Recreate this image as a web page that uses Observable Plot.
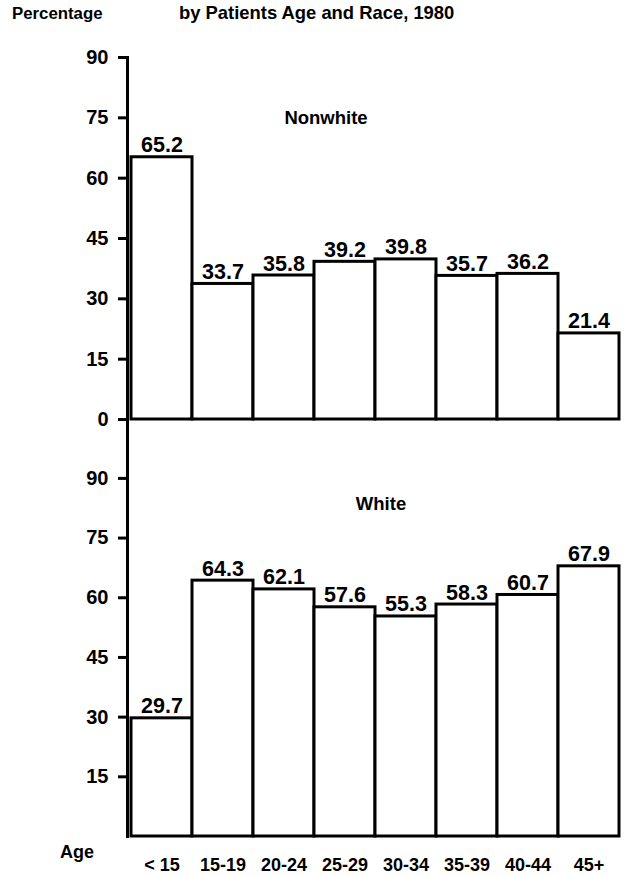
<!DOCTYPE html>
<html>
<head>
<meta charset="utf-8">
<script src="https://cdn.jsdelivr.net/npm/d3@7"></script>
<script src="https://cdn.jsdelivr.net/npm/@observablehq/plot@0.6"></script>
<style>
  html, body { margin: 0; padding: 0; background: #fff; }
  #wrap { position: relative; width: 629px; height: 876px; overflow: hidden; font-family: "Liberation Sans", Arial, sans-serif; font-weight: bold; color: #000; }
  .lbl { position: absolute; line-height: 1; white-space: nowrap; }
  #top, #bottom { position: absolute; left: 0; }
  #top { top: 0; }
  #bottom { top: 419px; }
  svg text { font-weight: bold; }
</style>
</head>
<body>
<div id="wrap">
  <div class="lbl" style="left:179px; top:4px; font-size:18.4px;">by Patients Age and Race, 1980</div>
  <div class="lbl" style="left:12px; top:6px; font-size:16.8px;">Percentage</div>
  <div id="top"></div>
  <div id="bottom"></div>
  <div class="lbl" style="left:60px; top:843px; font-size:18px;">Age</div>
</div>
<script>
const ages = ["< 15", "15-19", "20-24", "25-29", "30-34", "35-39", "40-44", "45+"];
const nonwhite = [65.2, 33.7, 35.8, 39.2, 39.8, 35.7, 36.2, 21.4];
const white = [29.7, 64.3, 62.1, 57.6, 55.3, 58.3, 60.7, 67.9];
const topTicks = [0, 15, 30, 45, 60, 75, 90];
const bottomTicks = [15, 30, 45, 60, 75, 90];
const panelNames = ["Nonwhite", "White"];

const font = '"Liberation Sans", Arial, sans-serif';
const nwData = ages.map((a, i) => ({age: a, value: nonwhite[i]}));
const wData = ages.map((a, i) => ({age: a, value: white[i]}));

function valueLabels(data) {
  return Plot.text(data, {
    x: "age", y: "value", text: d => d.value.toFixed(1),
    lineAnchor: "bottom", dy: -5, fontSize: 21.5, fontWeight: "bold",
    fill: "#000", style: {letterSpacing: "1.6px"}
  });
}

const topChart = Plot.plot({
  width: 629, height: 420,
  marginLeft: 127, marginRight: 7, marginTop: 57, marginBottom: 1,
  style: {fontFamily: font, background: "transparent", overflow: "visible"},
  x: {domain: ages, padding: 0, axis: null},
  y: {domain: [0, 90]},
  marks: [
    Plot.barY(nwData, {x: "age", y: "value", fill: "#fff", stroke: "#000", strokeWidth: 3, inset: 0}),
    Plot.frame({anchor: "left", stroke: "#000", strokeWidth: 3}),
    Plot.axisY({ticks: topTicks, tickSize: 9, tickPadding: 10, fontSize: 20, fontWeight: "bold", label: null, strokeWidth: 3}),
    valueLabels(nwData),
    Plot.text([panelNames[0]], {text: d => d, frameAnchor: "top", dx: -49, dy: 61, lineAnchor: "middle", fontSize: 18.5, fontWeight: "bold", fill: "#000"})
  ]
});
document.getElementById("top").appendChild(topChart);

const bottomChart = Plot.plot({
  width: 629, height: 457,
  marginLeft: 127, marginRight: 7, marginTop: 0, marginBottom: 40,
  style: {fontFamily: font, background: "transparent", overflow: "visible"},
  x: {domain: ages, padding: 0},
  y: {domain: [0, 104.8]},
  marks: [
    Plot.barY(wData, {x: "age", y: "value", fill: "#fff", stroke: "#000", strokeWidth: 3, inset: 0}),
    Plot.frame({anchor: "left", stroke: "#000", strokeWidth: 3}),
    Plot.axisY({ticks: bottomTicks, tickSize: 9, tickPadding: 10, fontSize: 20, fontWeight: "bold", label: null, strokeWidth: 3}),
    Plot.axisX({tickSize: 0, tickPadding: 22, fontSize: 18, fontWeight: "bold", label: null}),
    valueLabels(wData),
    Plot.text([panelNames[1]], {text: d => d, frameAnchor: "top", dx: 6, dy: 85, lineAnchor: "middle", fontSize: 18.5, fontWeight: "bold", fill: "#000"})
  ]
});
document.getElementById("bottom").appendChild(bottomChart);
</script>
</body>
</html>
